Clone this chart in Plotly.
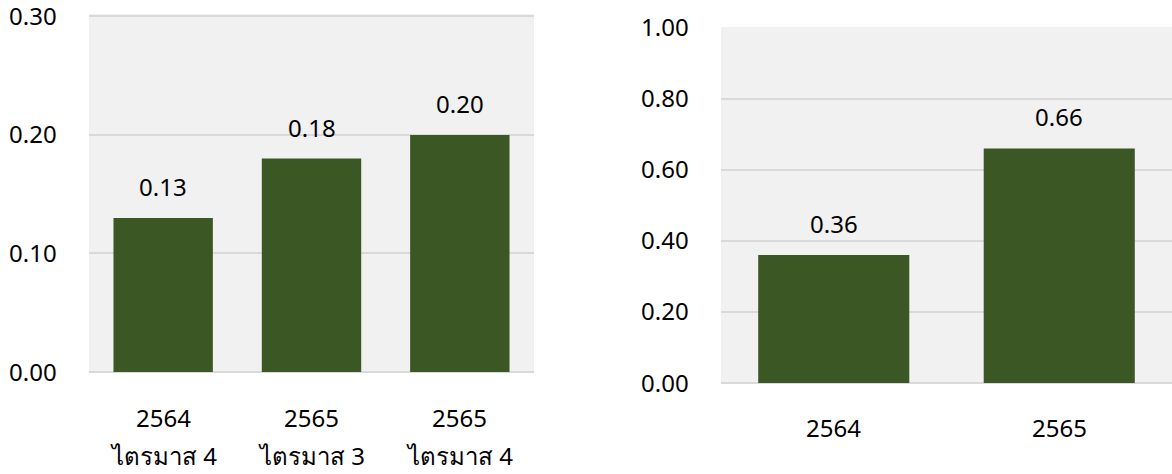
import plotly.graph_objects as go

# Left panel: quarterly values (year, quarter label)
left_years = ["2564", "2565", "2565"]
left_quarters = ["ไตรมาส 4", "ไตรมาส 3", "ไตรมาส 4"]
left_values = [0.13, 0.18, 0.20]
left_ticks = [0.00, 0.10, 0.20, 0.30]

# Right panel: yearly values
right_years = ["2564", "2565"]
right_values = [0.36, 0.66]
right_ticks = [0.00, 0.20, 0.40, 0.60, 0.80, 1.00]

BAR_COLOR = "#3B5724"
PLOT_BG = "#F1F1F1"
GRID = "#D9D9D9"
FONT = "Noto Sans, Tahoma, sans-serif"
FSIZE = 24
W, H = 1172, 474
TOP = 12

left_cats = [f"{y} {q}" for y, q in zip(left_years, left_quarters)]
right_cats = [f"ปี {y}" for y in right_years]

fig = go.Figure()
fig.add_trace(go.Bar(x=left_cats, y=left_values, marker_color=BAR_COLOR,
                     marker_line_width=0, xaxis="x", yaxis="y", showlegend=False))
fig.add_trace(go.Bar(x=right_cats, y=right_values, marker_color=BAR_COLOR,
                     marker_line_width=0, xaxis="x2", yaxis="y2", showlegend=False))


def dom_x(a, b):
    return [a / W, b / W]


def dom_y(top, bottom):
    h = H - TOP
    return [1 - (bottom - TOP) / h, 1 - (top - TOP) / h]


left_xdom = dom_x(89, 534)
right_xdom = dom_x(721, 1172)

font = dict(family=FONT, size=FSIZE, color="#000")
annotations = []

# value labels above bars (x given as category index)
for vals, xr, yr in ((left_values, "x", "y"), (right_values, "x2", "y2")):
    for i, v in enumerate(vals):
        annotations.append(dict(x=i, y=v, xref=xr, yref=yr, text=f"{v:.2f}",
                                showarrow=False, yanchor="bottom", yshift=13, font=font))

# y tick labels, right-aligned left of each plot area
for ticks, xdom, yr in ((left_ticks, left_xdom, "y"), (right_ticks, right_xdom, "y2")):
    for t in ticks:
        annotations.append(dict(x=xdom[0], y=t, xref="paper", yref=yr, text=f"{t:.2f}",
                                showarrow=False, xanchor="right", yanchor="middle",
                                xshift=-30, yshift=1, font=font))

# category labels below each panel (year line, then quarter line)
for i, (y, q) in enumerate(zip(left_years, left_quarters)):
    annotations.append(dict(x=i, y=0, xref="x", yref="y", text=y, showarrow=False,
                            yanchor="middle", yshift=-45, font=font))
    annotations.append(dict(x=i, y=0, xref="x", yref="y", text=q, showarrow=False,
                            yanchor="middle", yshift=-83, font=font))
for i, y in enumerate(right_years):
    annotations.append(dict(x=i, y=0, xref="x2", yref="y2", text=y, showarrow=False,
                            yanchor="middle", yshift=-44, font=font))

xaxis_common = dict(type="category", showgrid=False, showline=False, zeroline=False,
                    automargin=False, showticklabels=False, ticks="")
yaxis_common = dict(showgrid=True, gridcolor=GRID, gridwidth=2, zeroline=True,
                    zerolinecolor=GRID, zerolinewidth=2, showline=False, automargin=False,
                    tickmode="array", ticks="", showticklabels=False)

fig.update_layout(
    width=W, height=H,
    margin=dict(l=0, r=0, t=TOP, b=0),
    paper_bgcolor="white",
    plot_bgcolor=PLOT_BG,
    bargap=0.33,
    font=font,
    xaxis=dict(domain=left_xdom, anchor="y", range=[-0.5, len(left_cats) - 0.5],
               **xaxis_common),
    yaxis=dict(domain=dom_y(14, 372), anchor="x", range=[0, 0.302],
               tickvals=left_ticks, **yaxis_common),
    xaxis2=dict(domain=right_xdom, anchor="y2", range=[-0.5, len(right_cats) - 0.5],
                **xaxis_common),
    yaxis2=dict(domain=dom_y(27, 383), anchor="x2", range=[0, 1.0015],
                tickvals=right_ticks, **yaxis_common),
    annotations=annotations,
)

fig.write_html("out.html")
